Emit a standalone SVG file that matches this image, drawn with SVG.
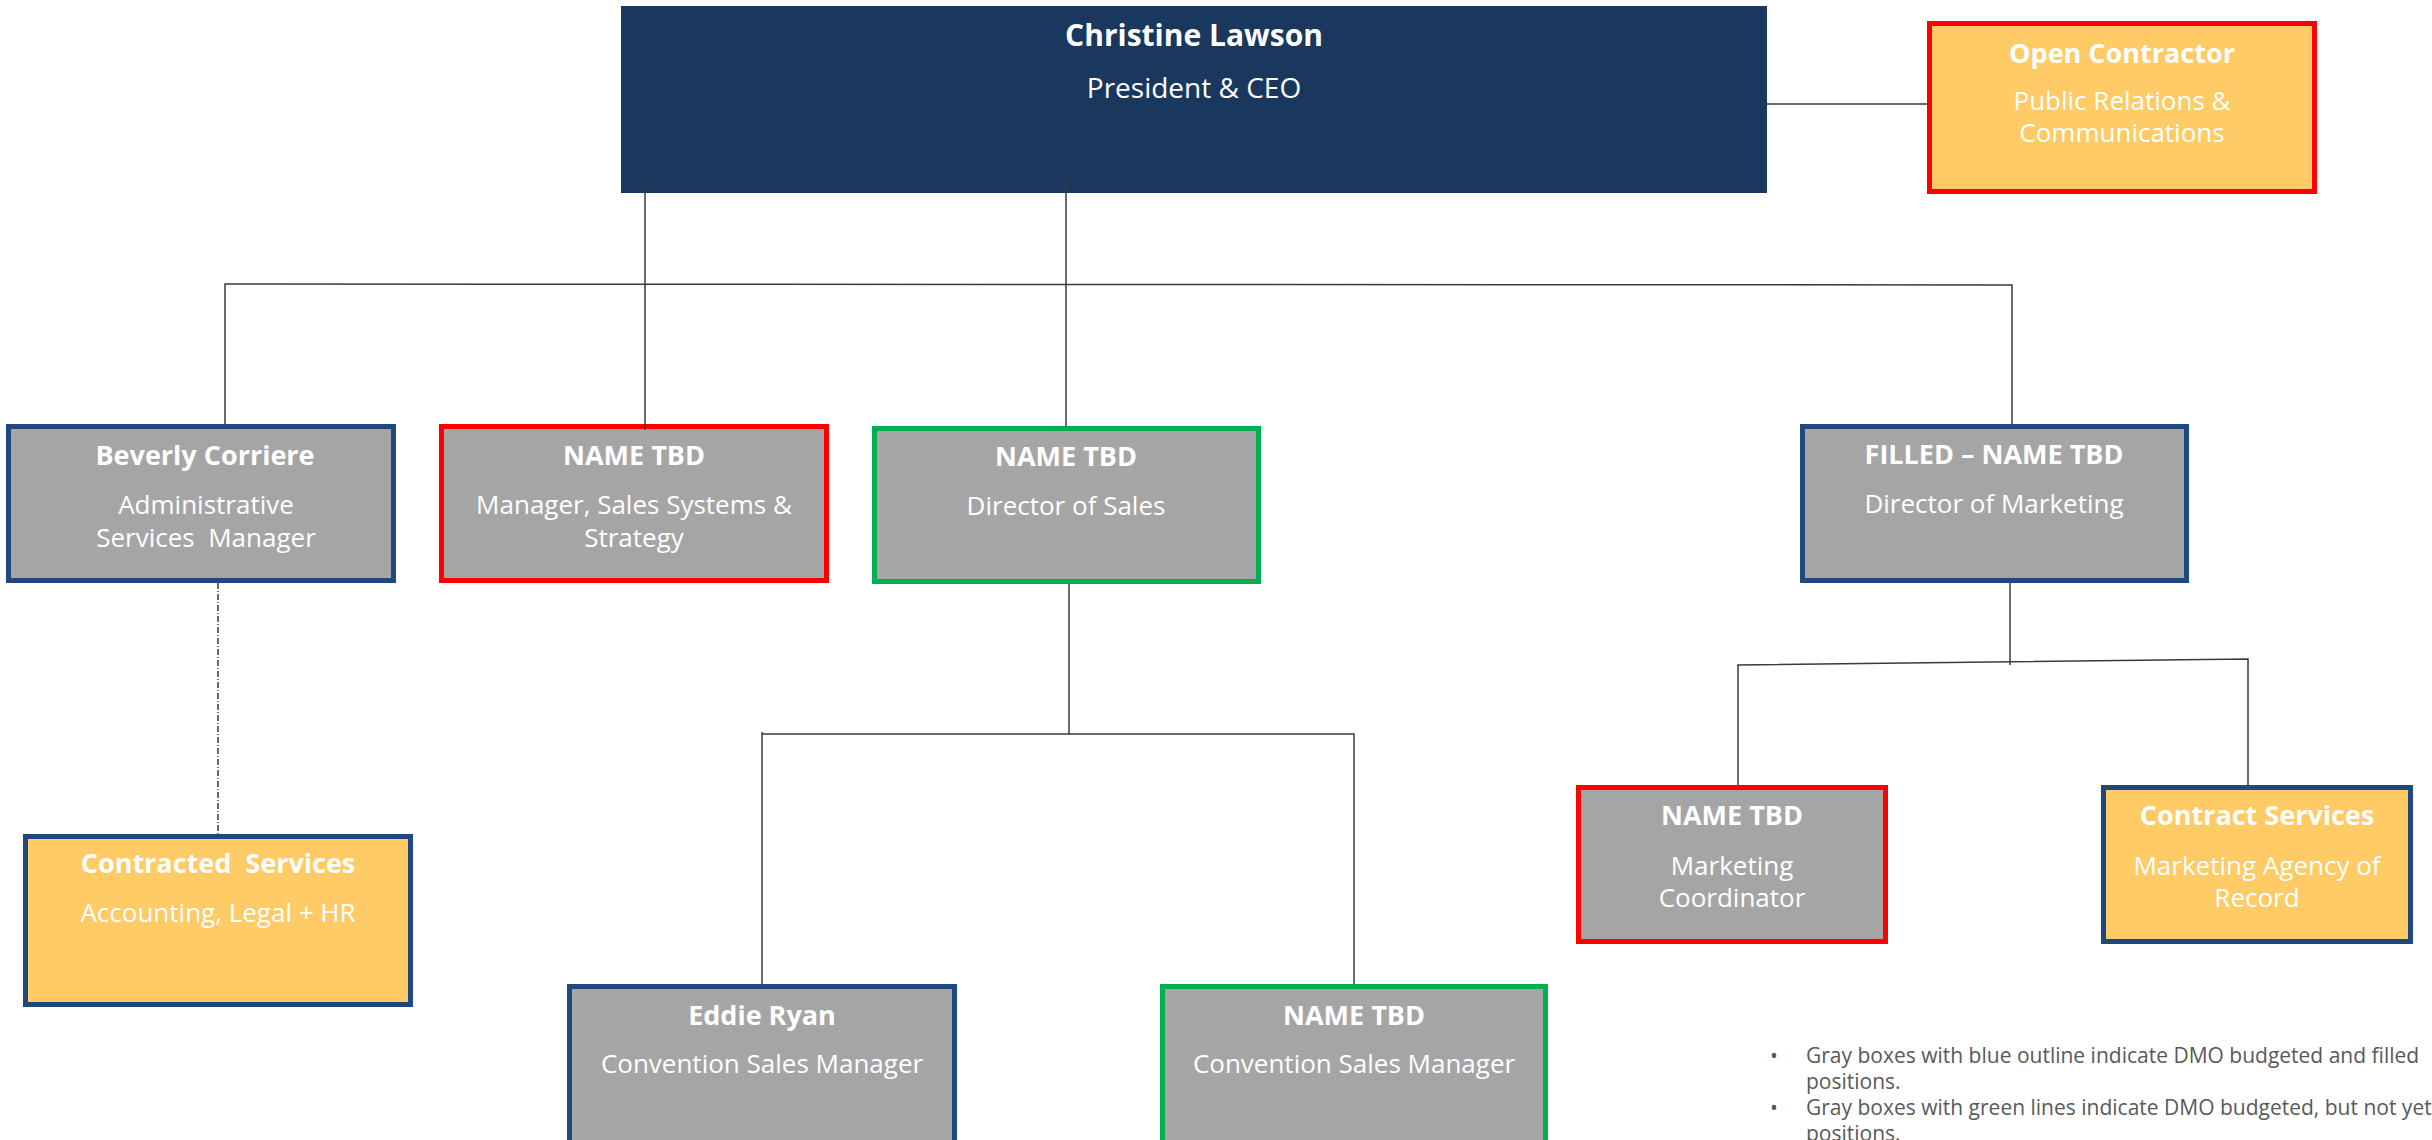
<svg xmlns="http://www.w3.org/2000/svg" width="2432" height="1140" viewBox="0 0 2432 1140">
<style>
.gray{fill:#a5a5a5}
.yel{fill:#fecb67}
.bb{stroke:#1f497d;stroke-width:5}
.br{stroke:#ff0000;stroke-width:5}
.bg{stroke:#00b050;stroke-width:5}
.t{font-family:"Open Sans","Liberation Sans",sans-serif;fill:#ffffff;text-anchor:middle}
.n{font-weight:700;font-size:27px}
.s{font-weight:400;font-size:26px}
.ln{fill:none;stroke:#3a3a3a;stroke-width:1.5}
.note{font-family:"Open Sans","Liberation Sans",sans-serif;font-size:21px;fill:#595959}
</style>
<rect width="2432" height="1140" fill="#ffffff"/>
<g id="ceo">
<rect x="621" y="6" width="1146" height="187" fill="#1a375e"/>
<text class="t" x="1194" y="46" font-weight="700" font-size="30">Christine Lawson</text>
<text class="t" x="1194" y="98" font-size="28">President &amp; CEO</text>
</g>
<g id="open-contractor">
<rect x="1929.5" y="23.5" width="385" height="168" class="yel br"/>
<text class="t n" x="2122" y="63">Open Contractor</text>
<text class="t s" x="2122" y="110">Public Relations &amp;</text>
<text class="t s" x="2122" y="142">Communications</text>
</g>
<g id="beverly">
<rect x="8.5" y="426.5" width="385" height="154" class="gray bb"/>
<text class="t n" x="205" y="465">Beverly Corriere</text>
<text class="t s" x="206" y="514">Administrative</text>
<text class="t s" x="206" y="547" xml:space="preserve">Services  Manager</text>
</g>
<g id="mgr-sales-systems">
<rect x="441.5" y="426.5" width="385" height="154" class="gray br"/>
<text class="t n" x="634" y="465">NAME TBD</text>
<text class="t s" x="634" y="514">Manager, Sales Systems &amp;</text>
<text class="t s" x="634" y="547">Strategy</text>
</g>
<g id="dir-sales">
<rect x="874.5" y="428.5" width="384" height="153" class="gray bg"/>
<text class="t n" x="1066" y="466">NAME TBD</text>
<text class="t s" x="1066" y="515">Director of Sales</text>
</g>
<g id="dir-marketing">
<rect x="1802.5" y="426.5" width="384" height="154" class="gray bb"/>
<text class="t n" x="1994" y="464">FILLED – NAME TBD</text>
<text class="t s" x="1994" y="513">Director of Marketing</text>
</g>
<g id="contracted-services">
<rect x="25.5" y="836.5" width="385" height="168" class="yel bb"/>
<text class="t n" x="218" y="873" xml:space="preserve">Contracted  Services</text>
<text class="t s" x="218" y="922">Accounting, Legal + HR</text>
</g>
<g id="eddie">
<rect x="569.5" y="986.5" width="385" height="170" class="gray bb"/>
<text class="t n" x="762" y="1025">Eddie Ryan</text>
<text class="t s" x="762" y="1073">Convention Sales Manager</text>
</g>
<g id="conv-sales-tbd">
<rect x="1162.5" y="986.5" width="383" height="170" class="gray bg"/>
<text class="t n" x="1354" y="1025">NAME TBD</text>
<text class="t s" x="1354" y="1073">Convention Sales Manager</text>
</g>
<g id="mkt-coord">
<rect x="1578.5" y="787.5" width="307" height="154" class="gray br"/>
<text class="t n" x="1732" y="825">NAME TBD</text>
<text class="t s" x="1732" y="875">Marketing</text>
<text class="t s" x="1732" y="907">Coordinator</text>
</g>
<g id="contract-services">
<rect x="2103.5" y="787.5" width="307" height="154" class="yel bb"/>
<text class="t n" x="2257" y="825">Contract Services</text>
<text class="t s" x="2257" y="875">Marketing Agency of</text>
<text class="t s" x="2257" y="907">Record</text>
</g>
<g id="connectors">
<line class="ln" x1="1767" y1="104" x2="1927" y2="104" stroke="#666" stroke-width="2"/>
<polyline class="ln" points="225,424 225,284 2012,285 2012,424"/>
<line class="ln" x1="645" y1="186" x2="645" y2="430"/>
<line class="ln" x1="1066" y1="177" x2="1066" y2="426"/>
<polyline class="ln" points="762,984 762,732"/>
<polyline class="ln" points="1069,584 1069,734"/>
<polyline class="ln" points="762,734 1354,734 1354,984"/>
<line class="ln" x1="2010" y1="583" x2="2010" y2="665"/>
<polyline class="ln" points="1738,785 1738,665 2248,659 2248,785"/>
<line class="ln" x1="218" y1="583" x2="218" y2="834" stroke-dasharray="6 2 1 2"/>
</g>
<g id="legend">
<text class="note" x="1770" y="1063">•</text>
<text class="note" x="1806" y="1063">Gray boxes with blue outline indicate DMO budgeted and filled</text>
<text class="note" x="1806" y="1089">positions.</text>
<text class="note" x="1770" y="1115">•</text>
<text class="note" x="1806" y="1115">Gray boxes with green lines indicate DMO budgeted, but not yet</text>
<text class="note" x="1806" y="1141">positions.</text>
</g>
</svg>
